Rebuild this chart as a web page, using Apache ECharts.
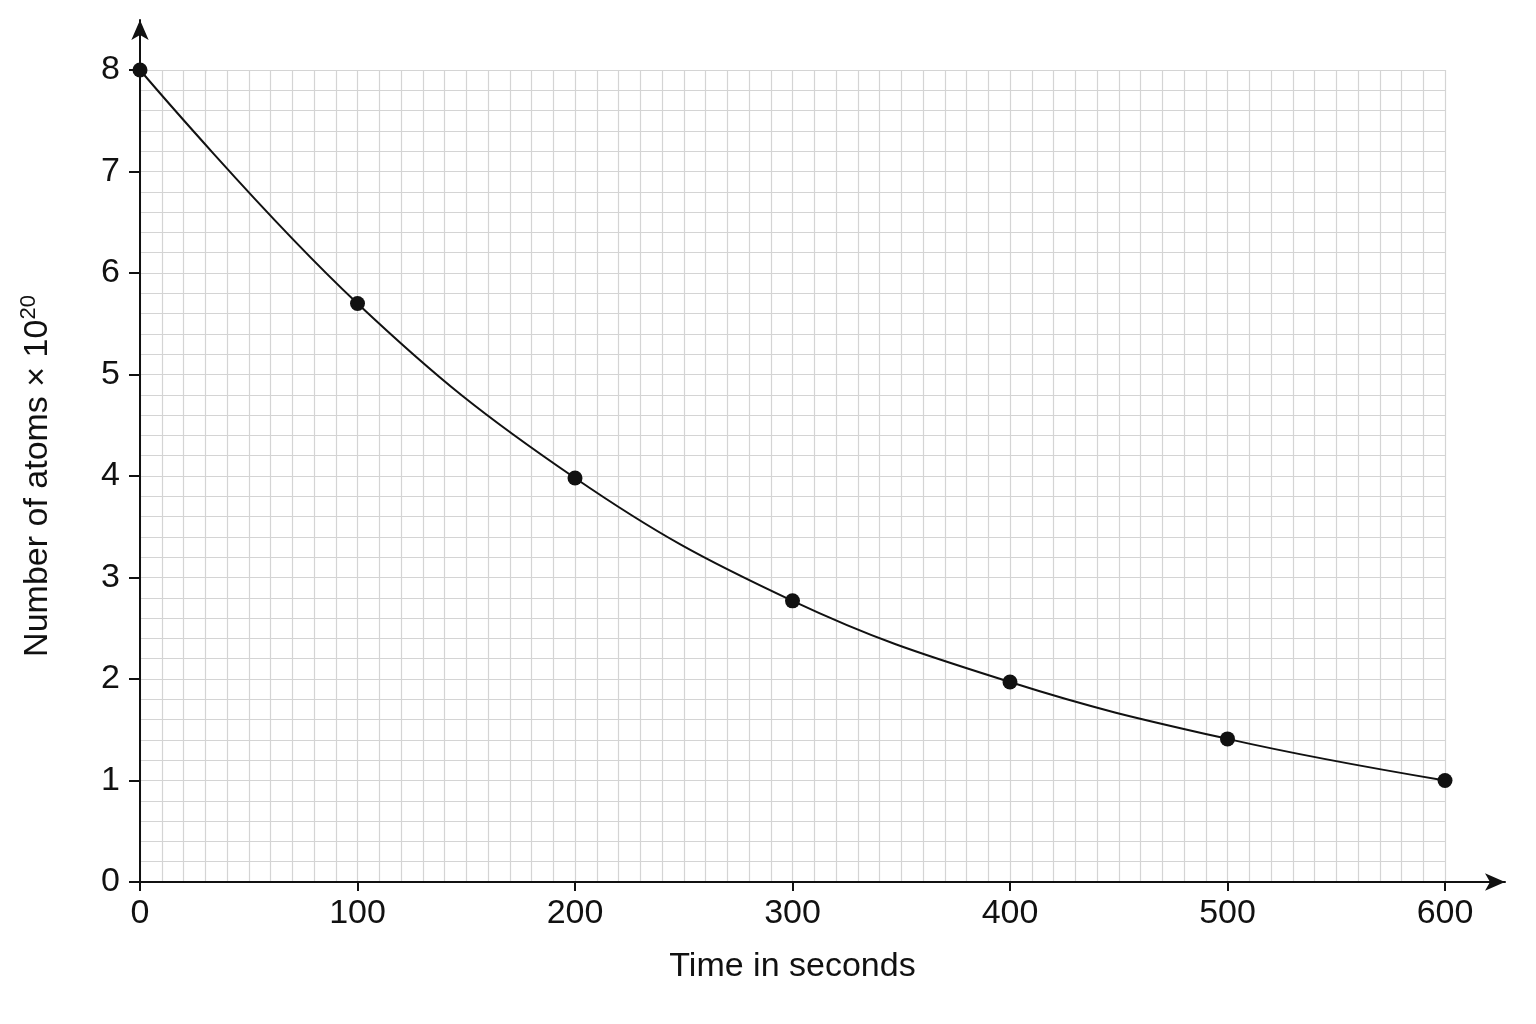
<!DOCTYPE html>
<html>
<head>
<meta charset="utf-8">
<script src="https://cdn.jsdelivr.net/npm/echarts@6/dist/echarts.min.js"></script>
<style>
  html, body { margin: 0; padding: 0; background: #fff; }
  #decay { width: 1536px; height: 1024px; }
</style>
</head>
<body>
<div id="decay"></div>
<script>
// decay curve data
var timeSec = [0, 100, 200, 300, 400, 500, 600];
var atoms = [8.0, 5.7, 3.98, 2.77, 1.97, 1.41, 1.0];
var xTicks = [0, 100, 200, 300, 400, 500, 600];
var yTicks = [0, 1, 2, 3, 4, 5, 6, 7, 8];

var chart = echarts.init(document.getElementById('decay'));
var font = 'Liberation Sans, Arial, sans-serif';
var gridColor = '#d4d4d4';

var points = timeSec.map(function (t, i) { return [t, atoms[i]]; });

var option = {
  backgroundColor: '#fff',
  animation: false,
  grid: [
    // plot area with the grid paper
    { left: 140, right: 91, top: 70, bottom: 142 },
    // same origin, longer axes for the arrows
    { left: 140, right: 31, top: 20, bottom: 142 }
  ],
  xAxis: [
    {
      type: 'value', gridIndex: 0,
      min: 0, max: 600, interval: 100,
      name: 'Time in seconds',
      nameLocation: 'middle',
      nameGap: 68,
      nameTextStyle: { fontFamily: font, fontSize: 34, color: '#111' },
      axisLine: { show: false },
      axisTick: { show: true, length: 9, lineStyle: { color: '#111', width: 2 } },
      axisLabel: {
        margin: 15, fontFamily: font, fontSize: 34, color: '#111',
        customValues: xTicks
      },
      splitLine: { show: true, lineStyle: { color: gridColor, width: 1.2 } },
      minorTick: { show: false, splitNumber: 10 },
      minorSplitLine: { show: true, lineStyle: { color: gridColor, width: 1.2 } }
    },
    {
      type: 'value', gridIndex: 1,
      min: 0, max: 1,
      axisLine: {
        show: true, symbol: ['none', 'arrow'], symbolSize: [13, 20],
        lineStyle: { color: '#111', width: 2 }
      },
      axisTick: { show: false }, axisLabel: { show: false },
      splitLine: { show: false }
    }
  ],
  yAxis: [
    {
      type: 'value', gridIndex: 0,
      min: 0, max: 8, interval: 1,
      name: '{n|Number of atoms × 10}{s|20}',
      nameLocation: 'middle',
      nameRotate: 90,
      nameGap: 82,
      nameTextStyle: {
        rich: {
          n: { fontFamily: font, fontSize: 34, color: '#111' },
          s: { fontFamily: font, fontSize: 22, color: '#111', verticalAlign: 'bottom', padding: [0, 0, 18, 0] }
        }
      },
      axisLine: { show: false },
      axisTick: { show: true, length: 11, lineStyle: { color: '#111', width: 2 } },
      axisLabel: {
        margin: 20, fontFamily: font, fontSize: 34, color: '#111',
        customValues: yTicks
      },
      splitLine: { show: true, lineStyle: { color: gridColor, width: 1.2 } },
      minorTick: { show: false, splitNumber: 5 },
      minorSplitLine: { show: true, lineStyle: { color: gridColor, width: 1.2 } }
    },
    {
      type: 'value', gridIndex: 1,
      min: 0, max: 1,
      axisLine: {
        show: true, symbol: ['none', 'arrow'], symbolSize: [13, 20],
        lineStyle: { color: '#111', width: 2 }
      },
      axisTick: { show: false }, axisLabel: { show: false },
      splitLine: { show: false }
    }
  ],
  series: [
    {
      type: 'line',
      xAxisIndex: 0, yAxisIndex: 0,
      data: points,
      smooth: 0.4,
      symbol: 'circle',
      symbolSize: 15,
      itemStyle: { color: '#111' },
      lineStyle: { color: '#111', width: 2 },
      z: 5
    }
  ]
};

chart.setOption(option);
</script>
</body>
</html>
